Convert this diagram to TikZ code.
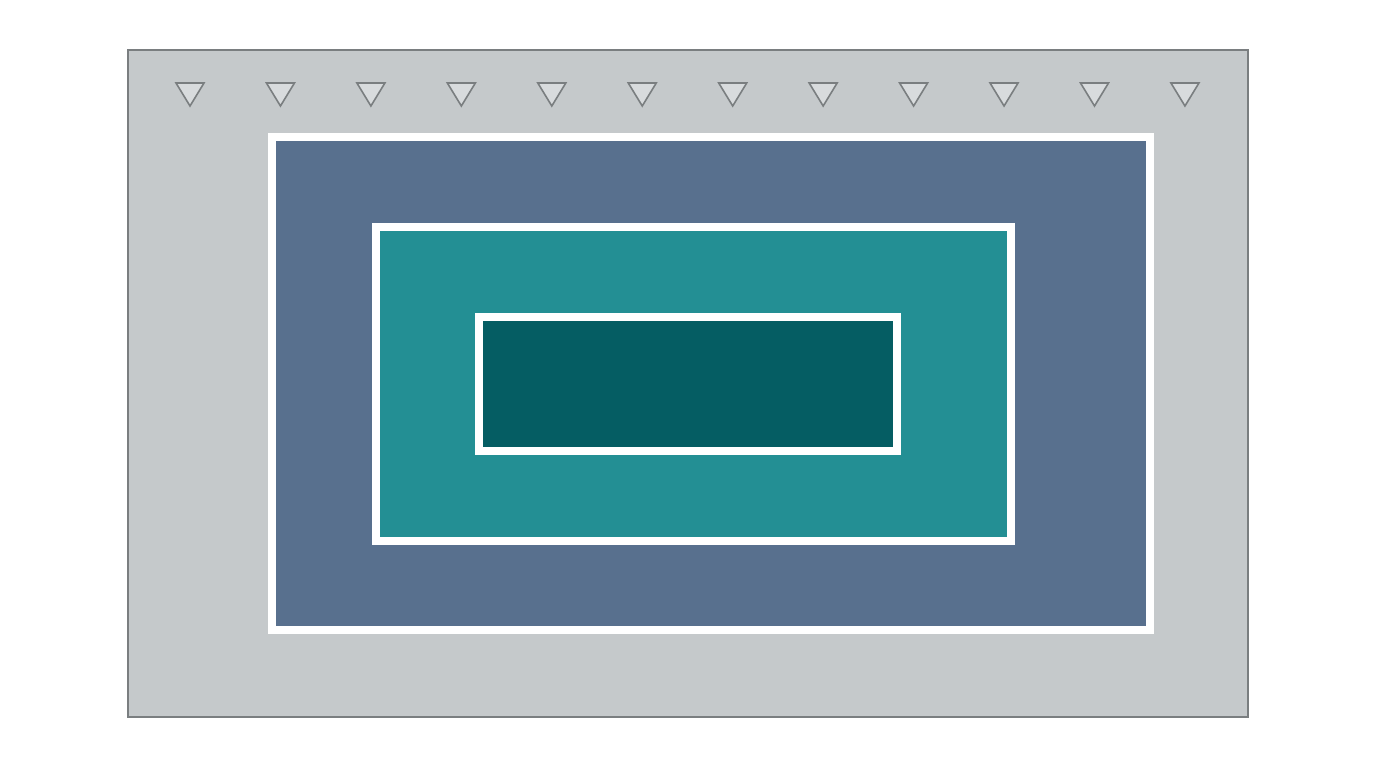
\documentclass[tikz,border=0pt]{standalone}
\usepackage{tikz}
\usetikzlibrary{backgrounds}
\definecolor{panelgray}{HTML}{C5C9CB}
\definecolor{edgegray}{HTML}{7A7E80}
\definecolor{markfill}{HTML}{D8DBDD}
\definecolor{slateblue}{HTML}{58708E}
\definecolor{midteal}{HTML}{238F94}
\definecolor{deepteal}{HTML}{055D63}
\tikzset{
  layer/.style={draw=white, line width=8pt, inner sep=0pt},
  pin/.style={draw=edgegray, fill=markfill, line width=1.6pt, line join=miter}
}
\begin{document}
\begin{tikzpicture}[x=1pt,y=-1pt]
\useasboundingbox (0,0) rectangle (1376,768);
\fill[white] (0,0) rectangle (1376,768);

\node[draw=edgegray, fill=panelgray, line width=2pt, inner sep=0pt,
  minimum width=1120pt, minimum height=667pt] (base) at (688,383.5) {};

\foreach \i in {0,...,11}
\draw[pin] ({190+90.45*\i-14},83) -- ({190+90.45*\i+14},83) -- ({190+90.45*\i},106) -- cycle;

\node[layer, fill=slateblue, minimum width=878.5pt, minimum height=493.5pt] (outer) at (710.75,383.25) {};
\node[layer, fill=midteal, minimum width=635pt, minimum height=314pt] (middle) at (693.5,384) {};
\node[layer, fill=deepteal, minimum width=418.5pt, minimum height=134pt] (inner) at (687.75,384) {};
\end{tikzpicture}
\end{document}
